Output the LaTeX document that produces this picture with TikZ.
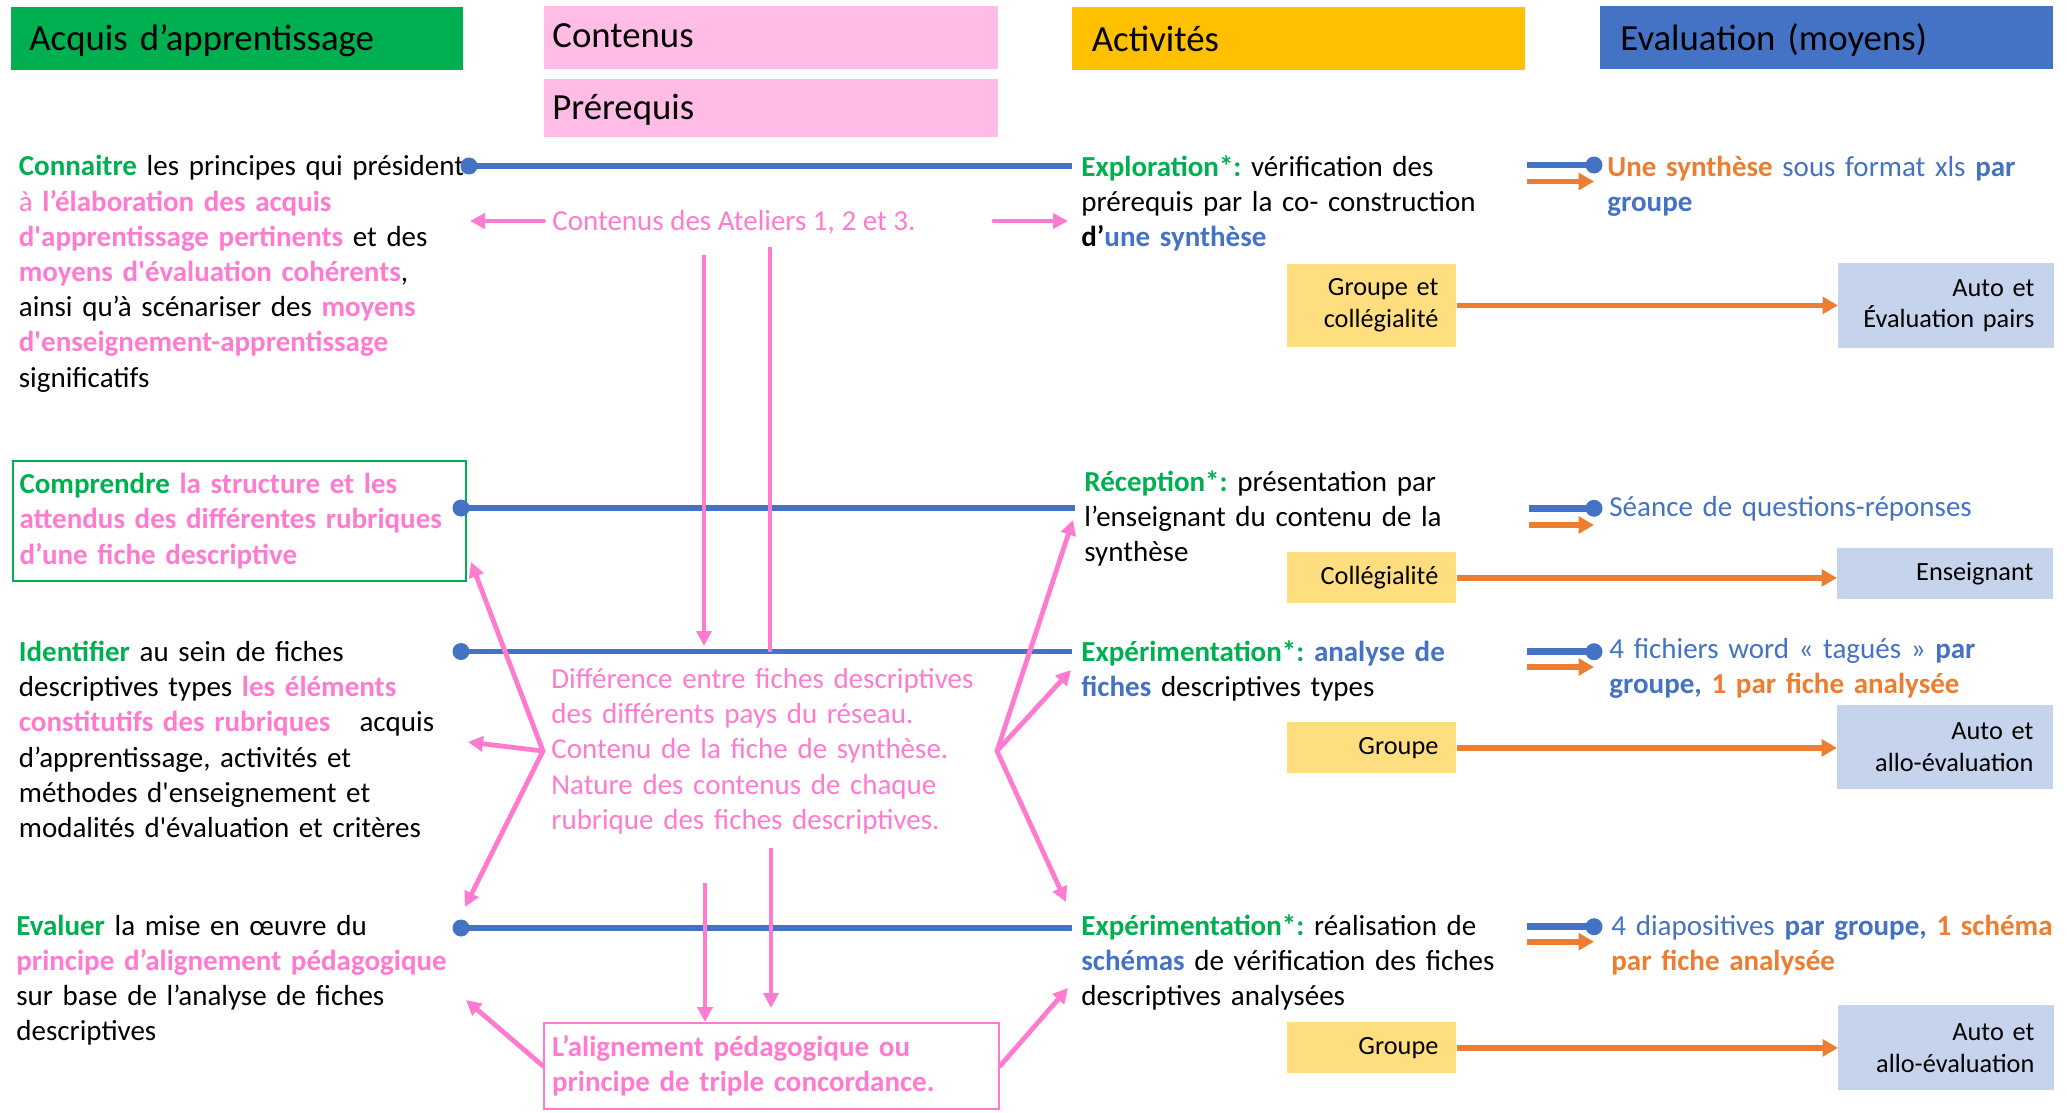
\documentclass[tikz,border=0pt]{standalone}
\usepackage{fontspec}
\setmainfont{Carlito}
\usetikzlibrary{arrows.meta}
\frenchspacing
\definecolor{hgreen}{HTML}{00B050}
\definecolor{hpink}{HTML}{FFBCE5}
\definecolor{horange}{HTML}{FFC000}
\definecolor{hblue}{HTML}{4472C4}
\definecolor{pk}{HTML}{FF7BCF}
\definecolor{bl}{HTML}{4472C4}
\definecolor{orr}{HTML}{ED7D31}
\definecolor{ybox}{HTML}{FFDE80}
\definecolor{lbbox}{HTML}{C5D3EC}
\newcommand\GrB[1]{\textcolor{hgreen}{\textbf{#1}}}
\newcommand\PkB[1]{\textcolor{pk}{\textbf{#1}}}
\newcommand\Pk[1]{\textcolor{pk}{#1}}
\newcommand\BlB[1]{\textcolor{bl}{\textbf{#1}}}
\newcommand\Bl[1]{\textcolor{bl}{#1}}
\newcommand\OrB[1]{\textcolor{orr}{\textbf{#1}}}
\newcommand\sqt{\textquotesingle}
\newcommand\bodyfont{\fontsize{14.5}{17.6}\selectfont\frenchspacing}
\newcommand\boxfont{\fontsize{13.15}{15.8}\selectfont}
\begin{document}
\begin{tikzpicture}[x=0.5pt,y=-0.5pt,
 body/.style={anchor=base west, inner xsep=0pt, inner ysep=0pt, align=left, text width=#1, font=\bodyfont},
 body/.default=225pt,
 hdr/.style={anchor=north west, inner ysep=0pt, align=left, text depth=3pt, font=\fontsize{18.4}{22}\selectfont},
 ybx/.style={anchor=north west, fill=ybox, inner xsep=9pt, inner ysep=0pt, text width=66.5pt, align=right, font=\boxfont},
 lbx/.style={anchor=north west, fill=lbbox, inner xsep=10pt, inner ysep=0pt, text width=88pt, align=right, font=\boxfont},
 bline/.style={draw=bl, line width=2.8pt},
 bdot/.style={circle, fill=bl, inner sep=0pt, minimum size=8.5pt},
 pkline/.style={draw=pk, line width=2.4pt},
 pkarr/.style={pkline, line cap=round, -{Triangle[length=7.5pt,width=7.5pt]}},
 orarr/.style={draw=orr, line width=2.6pt, -{Triangle[length=7.7pt,width=8.3pt]}},
]
\fill[white] (0,0) rectangle (2067,1113);
\useasboundingbox (0,0) rectangle (2067,1113);

% headers
\node[hdr, fill=hgreen, inner xsep=9.25pt, text width=207.75pt, minimum height=31.7pt, text height=14.7pt] (hA) at (10.5,6.6) {Acquis d’apprentissage};
\node[hdr, fill=hpink, inner xsep=4pt, text width=219pt, minimum height=31.65pt, text height=12.75pt] (hC) at (544,5.3) {Contenus};
\node[hdr, fill=hpink, inner xsep=4pt, text width=219pt, minimum height=29pt, text height=14.3pt] (hP) at (544,79) {Prérequis};
\node[hdr, fill=horange, inner xsep=9.75pt, text width=207pt, minimum height=31.7pt, text height=15.4pt] (hAc) at (1072,6.6) {Activités};
\node[hdr, fill=hblue, inner xsep=10pt, text width=206.5pt, minimum height=31.65pt, text height=16.1pt] (hE) at (1600,5.3) {Evaluation (moyens)};

% left column
\node[body=230pt] (L1) at (18.5,176) {\GrB{Connaitre} les principes qui président\\
\Pk{à }\PkB{l’élaboration des acquis}\\
\PkB{d\sqt apprentissage pertinents} et des\\
\PkB{moyens d\sqt évaluation cohérents},\\
ainsi qu’à scénariser des \PkB{moyens}\\
\PkB{d\sqt enseignement-apprentissage}\\
significatifs};
\node[draw=hgreen, line width=1pt, anchor=north west, inner xsep=3.25pt, inner ysep=0pt, text width=220pt, minimum height=60pt, align=left, font=\bodyfont] (L2) at (12,460) {\GrB{Comprendre} \PkB{la structure et les}\\
\PkB{attendus des différentes rubriques}\\
\PkB{d’une fiche descriptive}};
\node[body=230pt] (L3) at (18.5,661.5) {\GrB{Identifier} au sein de fiches\\
descriptives types \PkB{les éléments}\\
\PkB{constitutifs des rubriques}\ \ \ acquis\\
d’apprentissage, activités et\\
méthodes d\sqt enseignement et\\
modalités d\sqt évaluation et critères};
\node[body=230pt] (L4) at (16,935) {\GrB{Evaluer} la mise en œuvre du\\
\PkB{principe d’alignement pédagogique}\\
sur base de l’analyse de fiches\\
descriptives};

% activities
\node[body=215pt, inner xsep=4.5pt] (A1) at (1072,176.5) {\GrB{Exploration*:} vérification des\\
prérequis par la co- construction\\
\textbf{d’}\BlB{une synthèse}};
\node[body=215pt, inner xsep=4.5pt] (A2) at (1075,491.5) {\GrB{Réception*:} présentation par\\
l’enseignant du contenu de la\\
synthèse};
\node[body=215pt, inner xsep=4.5pt] (A3) at (1072,661.5) {\GrB{Expérimentation*:} \BlB{analyse de}\\
\BlB{fiches} descriptives types};
\node[body=215pt, inner xsep=4.5pt] (A4) at (1072,935) {\GrB{Expérimentation*:} réalisation de\\
\BlB{schémas} de vérification des fiches\\
descriptives analysées};

% evaluation texts
\node[body=225pt] (E1) at (1607,176.5) {\OrB{Une synthèse} \Bl{sous format xls} \BlB{par}\\
\BlB{groupe}};
\node[body=225pt] (E2) at (1609,516.5) {\Bl{Séance de questions-réponses}};
\node[body=225pt] (E3) at (1609,658) {\Bl{4 fichiers word « tagués »} \BlB{par}\\
\BlB{groupe,} \OrB{1 par fiche analysée}};
\node[body=225pt] (E4) at (1611,935) {\Bl{4 diapositives} \BlB{par groupe,} \OrB{1 schéma}\\
\OrB{par fiche analysée}};

% boxes
\node[ybx, minimum height=41.5pt] (Y1) at (1287,263.5) {Groupe et\\collégialité};
\node[lbx, minimum height=42.25pt] (B1) at (1838,263) {Auto et\\Évaluation pairs};
\node[ybx, minimum height=25.5pt] (Y2) at (1287,552) {Collégialité};
\node[lbx, minimum height=25.5pt] (B2) at (1837,548) {Enseignant};
\node[ybx, minimum height=25.5pt] (Y3) at (1287,722) {Groupe};
\node[lbx, minimum height=42pt] (B3) at (1837,705) {Auto et\\allo-évaluation};
\node[ybx, minimum height=25.5pt] (Y4) at (1287,1022) {Groupe};
\node[lbx, minimum height=42.5pt] (B4) at (1838,1005) {Auto et\\allo-évaluation};

\draw[orarr] (Y1.east) -- (Y1.east -| B1.west);
\draw[orarr] (Y2.east) -- (Y2.east -| B2.west);
\draw[orarr] (Y3.east) -- (Y3.east -| B3.west);
\draw[orarr] (Y4.east) -- (Y4.east -| B4.west);

% main blue lines
\node[bdot] (d1) at (469,166) {};
\node[bdot] (d2) at (461,508) {};
\node[bdot] (d3) at (461,651.5) {};
\node[bdot] (d4) at (461,928) {};
\draw[bline] (d1.center) -- (d1.center -| A1.west);
\draw[bline] (d2.center) -- (d2.center -| A2.west);
\draw[bline] (d3.center) -- (d3.center -| A3.west);
\draw[bline] (d4.center) -- (d4.center -| A4.west);

% evaluation symbols
\coordinate (s1b) at (1527,165);   \node[bdot] (s1d) at (1594,165) {};   \coordinate (s1o) at (1527,181.5);
\coordinate (s2b) at (1529,508.3); \node[bdot] (s2d) at (1594,508.3) {}; \coordinate (s2o) at (1529,525);
\coordinate (s3b) at (1527,651.7); \node[bdot] (s3d) at (1594,651.7) {}; \coordinate (s3o) at (1527,667);
\coordinate (s4b) at (1527,926.7); \node[bdot] (s4d) at (1594,926.7) {}; \coordinate (s4o) at (1527,941.7);
\foreach \i in {1,2,3,4}{
  \draw[bline, line width=3.3pt] (s\i b) -- (s\i d.center);
  \draw[orarr, line width=2.8pt] (s\i o) -- (s\i o -| s\i d.center);
}

% pink content
\node[anchor=base west, inner sep=0pt, font=\bodyfont, text=pk] (ate) at (552,230) {Contenus des Ateliers 1, 2 et 3.};
\coordinate (atl) at (543.5,221); \coordinate (atlt) at (470,221);
\coordinate (atr) at (994,221);   \coordinate (atrt) at (1068,221);
\draw[pkarr] (atl) -- (atlt);
\draw[pkarr] (atr) -- (atrt);

\coordinate (v1t) at (704,255); \coordinate (v1b) at (704,646);
\coordinate (v2t) at (770,247);
\draw[pkarr, line cap=butt] (v1t) -- (v1b);
\draw[pkline] (v2t) -- (v2t |- d3.center);

\node[body=230pt, text=pk] (MT) at (551,688.5) {Différence entre fiches descriptives\\
des différents pays du réseau.\\
Contenu de la fiche de synthèse.\\
Nature des contenus de chaque\\
rubrique des fiches descriptives.};

\coordinate (lv) at (543,751); \coordinate (rv) at (997,751);
\coordinate (lt1) at (471,562); \coordinate (lt2) at (468,742); \coordinate (lt3) at (465,907);
\coordinate (rt1) at (1073,520); \coordinate (rt2) at (1071,670); \coordinate (rt3) at (1066,902);
\foreach \t in {lt1,lt2,lt3}{\draw[pkarr] (lv) -- (\t);}
\foreach \t in {rt1,rt2,rt3}{\draw[pkarr] (rv) -- (\t);}

\node[draw=pk, line width=1pt, anchor=north west, inner xsep=4pt, inner ysep=0pt, text width=219.5pt, minimum height=43pt, align=left, font=\bodyfont, text=pk] (BX) at (543,1022) {\textbf{L’alignement pédagogique ou}\\
\textbf{principe de triple concordance.}};

\coordinate (v3t) at (705,883);
\coordinate (v4t) at (771,848); \coordinate (v4b) at (771,1008);
\draw[pkarr, line cap=butt] (v3t) -- (v3t |- BX.north);
\draw[pkarr, line cap=butt] (v4t) -- (v4b);

\coordinate (lb) at (466,1000); \coordinate (rb) at (1068,988);
\draw[pkarr] (BX.west) -- (lb);
\draw[pkarr] (BX.east) -- (rb);
\end{tikzpicture}
\end{document}
